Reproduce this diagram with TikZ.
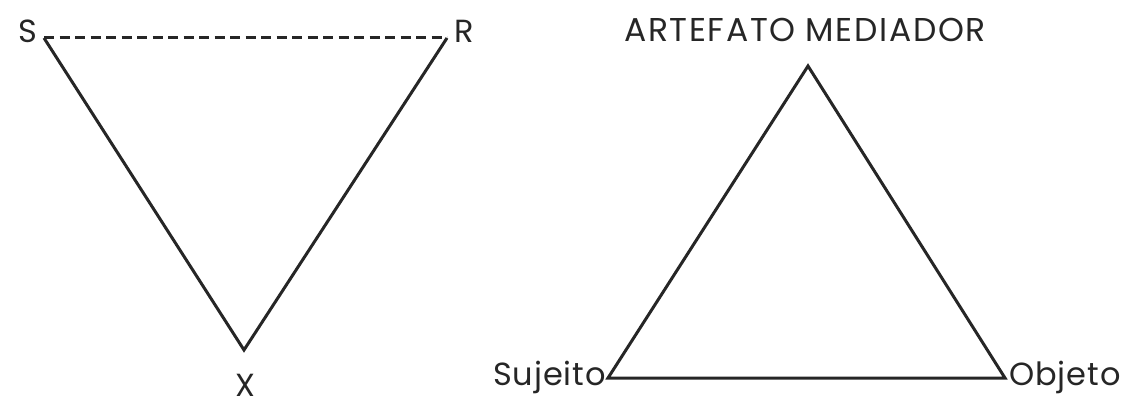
\documentclass[tikz,border=0pt]{standalone}
\usepackage{fontspec}
\setmainfont{Poppins}[LetterSpace=3]
\begin{document}
\begin{tikzpicture}[x=1pt,y=-1pt,
  lbl/.style={inner sep=0pt,font=\fontsize{32}{36}\selectfont,text=black!85},
  edge/.style={line width=3pt,black!85,line join=miter},
  dashline/.style={line width=3pt,black!85,dash pattern=on 10pt off 5.5pt}]
\useasboundingbox (0,0) rectangle (1133,406);
% left triangle
\coordinate (S) at (44,38);
\coordinate (R) at (447,38);
\coordinate (X) at (244,350);
\node[lbl,anchor=base east] (Sl) at (37,43) {S};
\node[lbl,anchor=base west] (Rl) at (454,43) {R};
\node[lbl,anchor=base] (Xl) at (245,396) {X};
\draw[dashline] (S) -- (R);
\draw[edge] (S) -- (X) -- (R);
% right triangle
\coordinate (A) at (808,66);
\coordinate (Su) at (608,378);
\coordinate (O) at (1005,378);
\node[lbl,anchor=base] (Al) at (805,42) {\fontsize{33}{36}\selectfont\addfontfeature{LetterSpace=5}ARTEFATO MEDIADOR};
\node[lbl,anchor=base east] (Sul) at (606,385) {Sujeito};
\node[lbl,anchor=base west] (Ol) at (1009,385) {Objeto};
\draw[edge] (A) -- (Su) -- (O) -- cycle;
\end{tikzpicture}
\end{document}
